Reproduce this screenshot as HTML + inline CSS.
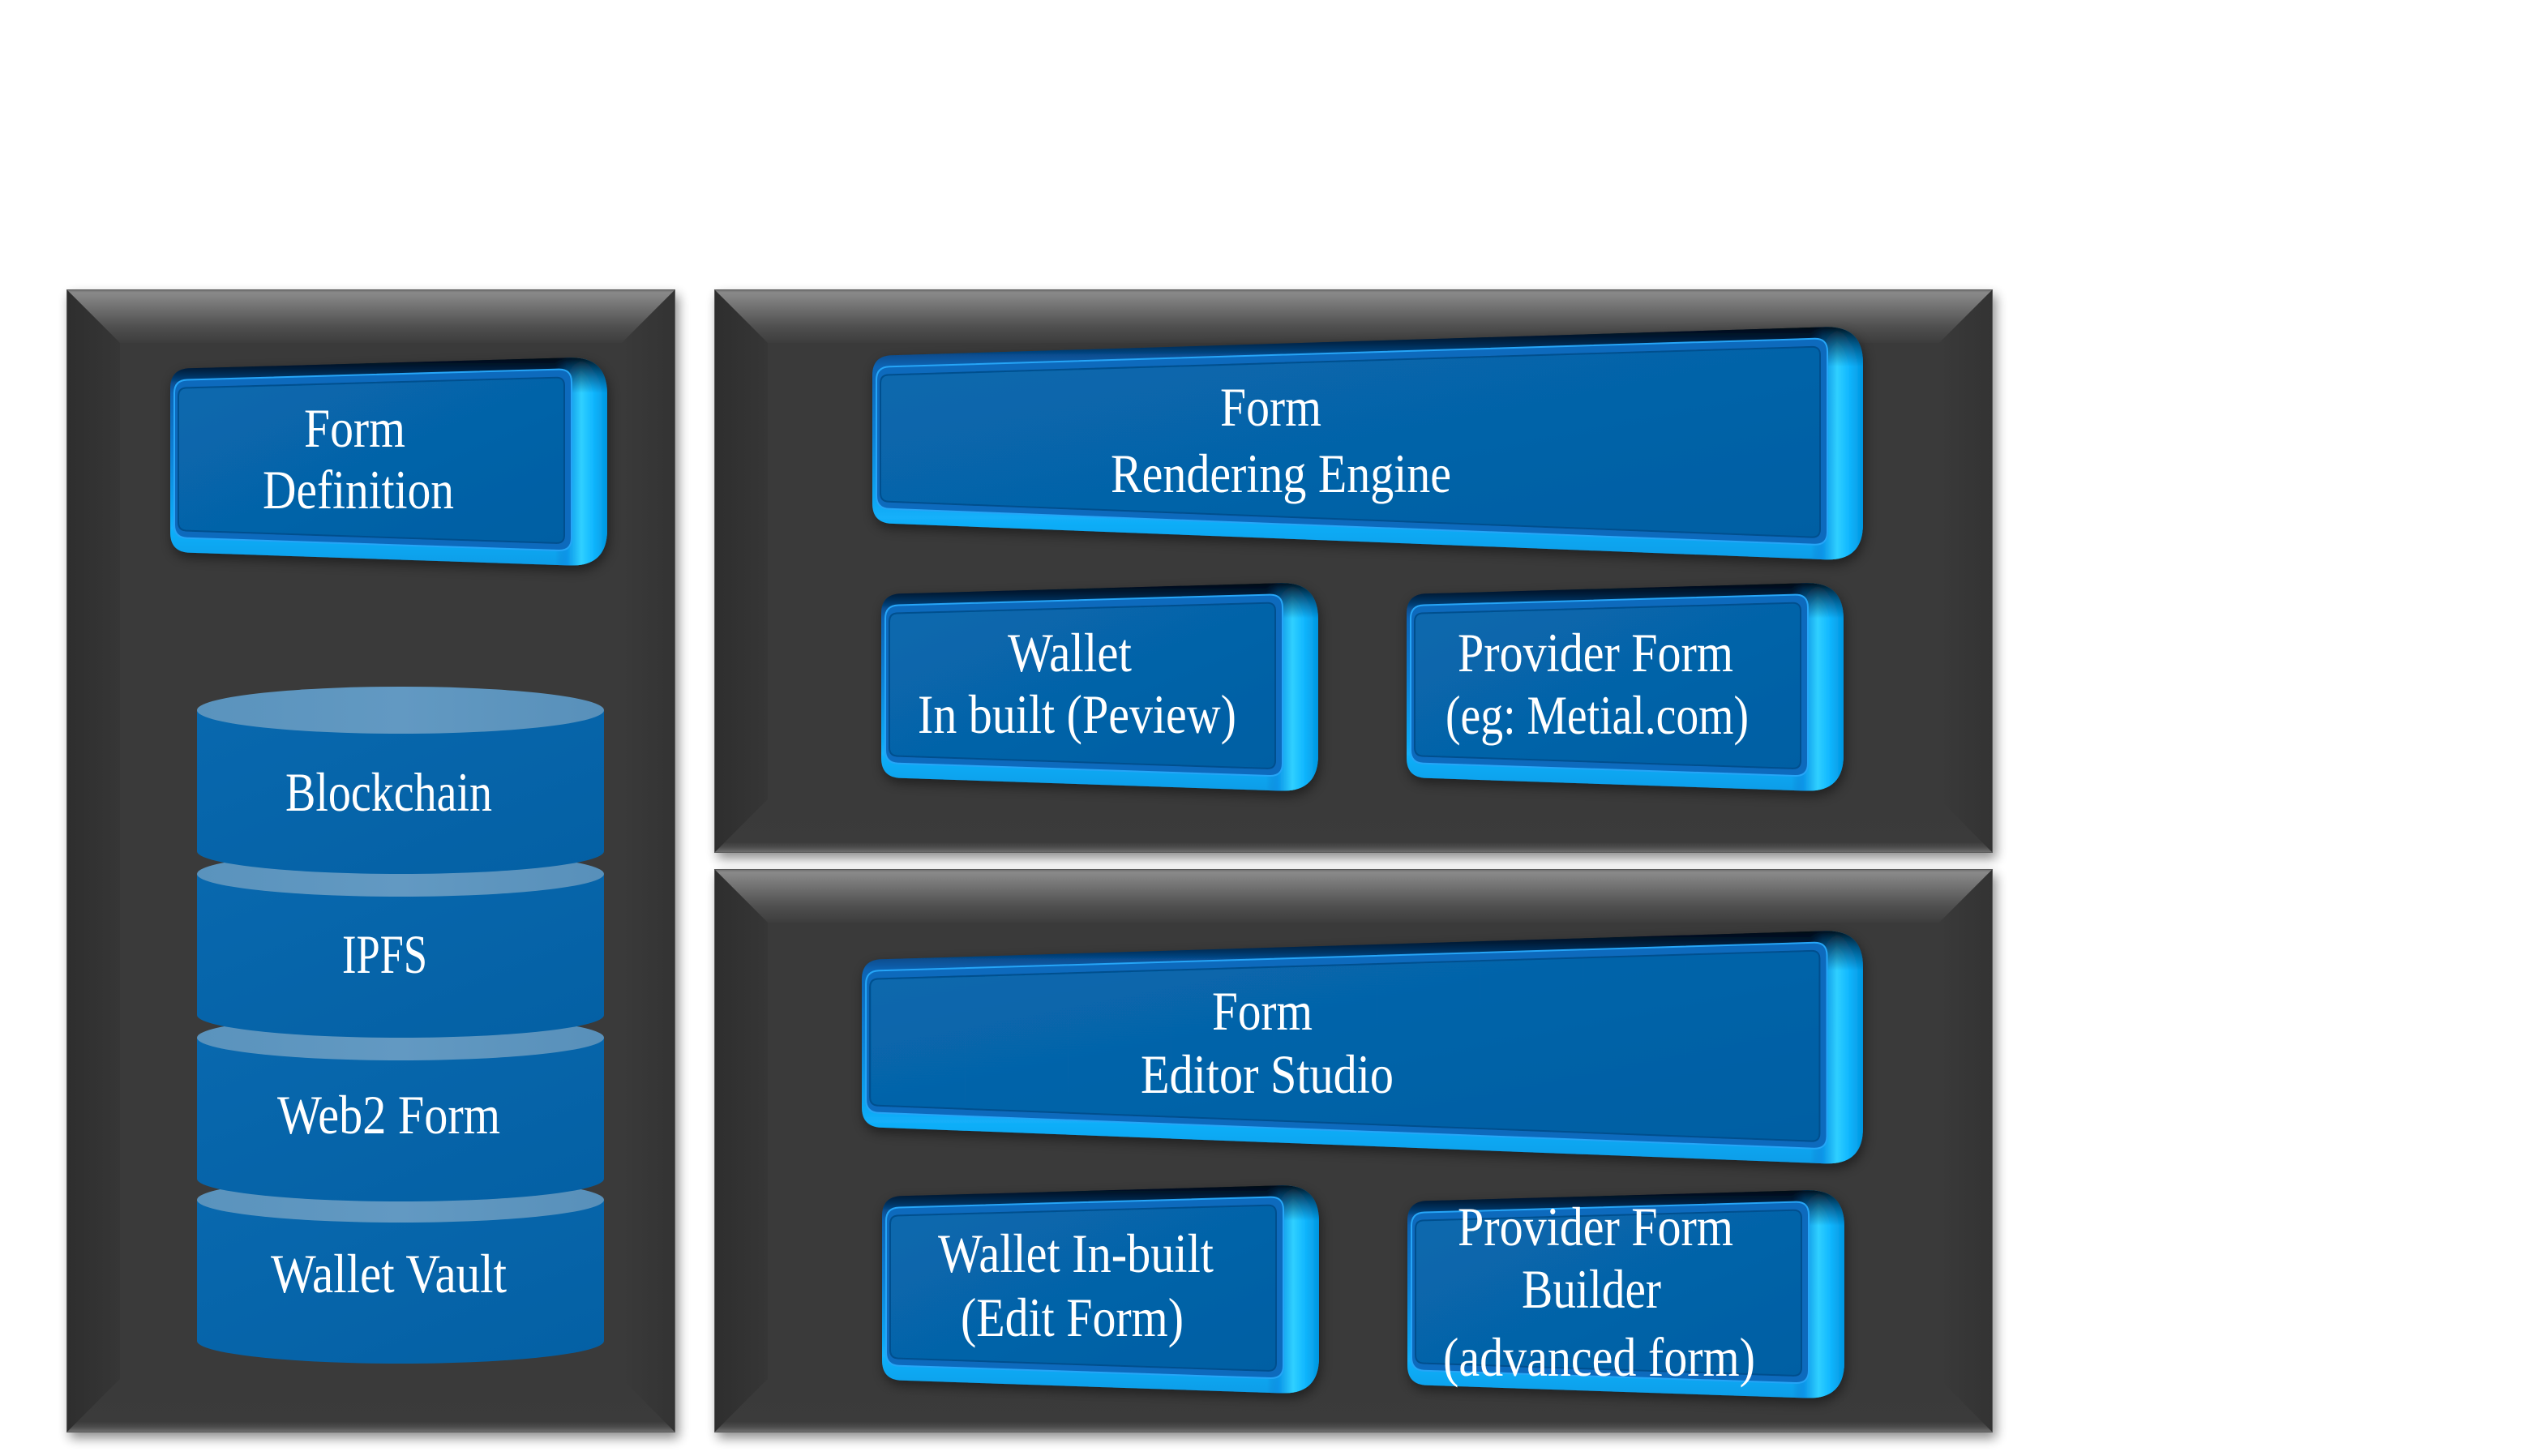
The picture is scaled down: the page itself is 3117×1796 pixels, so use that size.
<!DOCTYPE html>
<html>
<head>
<meta charset="utf-8">
<style>
html,body{margin:0;padding:0;background:#ffffff;}
svg{display:block;}
</style>
</head>
<body>
<svg width="3117" height="1796" viewBox="0 0 3117 1796" xmlns="http://www.w3.org/2000/svg" xmlns:xlink="http://www.w3.org/1999/xlink">
<defs>
  <filter id="psh" x="-10%" y="-10%" width="120%" height="120%">
    <feGaussianBlur stdDeviation="7"/>
  </filter>
  <filter id="bsh" x="-10%" y="-20%" width="120%" height="140%">
    <feDropShadow dx="2" dy="6" stdDeviation="7" flood-color="#000" flood-opacity="0.45"/>
  </filter>
  <linearGradient id="gTopBev" x1="0" y1="0" x2="0" y2="1">
    <stop offset="0" stop-color="#6a6a6a"/>
    <stop offset="0.06" stop-color="#8a8a8a"/>
    <stop offset="0.3" stop-color="#747474"/>
    <stop offset="0.7" stop-color="#4f4f4f"/>
    <stop offset="1" stop-color="#3d3d3d"/>
  </linearGradient>
  <linearGradient id="gBotBev" x1="0" y1="0" x2="0" y2="1">
    <stop offset="0" stop-color="#3a3a3a"/>
    <stop offset="0.8" stop-color="#3b3b3b"/>
    <stop offset="0.9" stop-color="#4e4e4e"/>
    <stop offset="1" stop-color="#747474"/>
  </linearGradient>
  <linearGradient id="gLeftBev" x1="0" y1="0" x2="1" y2="0">
    <stop offset="0" stop-color="#2e2e2e"/>
    <stop offset="1" stop-color="#363636"/>
  </linearGradient>
  <linearGradient id="gRightBev" x1="0" y1="0" x2="1" y2="0">
    <stop offset="0" stop-color="#3a3a3a"/>
    <stop offset="1" stop-color="#333333"/>
  </linearGradient>

  <linearGradient id="gO" x1="0" y1="0" x2="0" y2="1">
    <stop offset="0" stop-color="#000a18"/>
    <stop offset="0.05" stop-color="#02264a"/>
    <stop offset="0.12" stop-color="#0a5fae"/>
    <stop offset="0.45" stop-color="#0c7fd4"/>
    <stop offset="0.82" stop-color="#12b0fa"/>
    <stop offset="1" stop-color="#0a9de8"/>
  </linearGradient>
  <linearGradient id="gS" x1="0" y1="0" x2="1" y2="0">
    <stop offset="0" stop-color="#0b7fd0" stop-opacity="0"/>
    <stop offset="0.22" stop-color="#0a94e8" stop-opacity="0.9"/>
    <stop offset="0.5" stop-color="#30d0ff"/>
    <stop offset="0.72" stop-color="#12b8ff"/>
    <stop offset="1" stop-color="#0095e0"/>
  </linearGradient>
  <linearGradient id="gT" x1="0" y1="0" x2="0" y2="1">
    <stop offset="0" stop-color="#000814" stop-opacity="0.95"/>
    <stop offset="0.07" stop-color="#001e3c" stop-opacity="0.6"/>
    <stop offset="0.17" stop-color="#002850" stop-opacity="0"/>
    <stop offset="1" stop-color="#002850" stop-opacity="0"/>
  </linearGradient>
  <linearGradient id="gF" x1="0" y1="0" x2="1" y2="1">
    <stop offset="0" stop-color="#0868ae"/>
    <stop offset="1" stop-color="#045fa3"/>
  </linearGradient>
  <linearGradient id="gCyl" x1="0" y1="0" x2="1" y2="1">
    <stop offset="0" stop-color="#0868ae"/>
    <stop offset="1" stop-color="#0460a4"/>
  </linearGradient>
  <linearGradient id="gCylTop" x1="0" y1="0" x2="1" y2="0">
    <stop offset="0" stop-color="#5a93bd"/>
    <stop offset="0.5" stop-color="#6299c2"/>
    <stop offset="1" stop-color="#5890ba"/>
  </linearGradient>

  <!-- small button (base geometry: Wallet In built) -->
  <g id="bs">
    <path d="M 1087,757 Q 1087,733 1111,732.3 L 1580,719.3 Q 1626,718 1626,764 L 1626,931 Q 1626,977 1580,975.5 L 1111,959.8 Q 1087,959 1087,935 Z" fill="url(#gO)"/>
    <path d="M 1562,719.8 L 1580,719.3 Q 1626,718 1626,764 L 1626,931 Q 1626,977 1580,975.5 L 1562,974.9 Z" fill="url(#gS)"/>
    <path d="M 1087,757 Q 1087,733 1111,732.3 L 1580,719.3 Q 1626,718 1626,764 L 1626,931 Q 1626,977 1580,975.5 L 1111,959.8 Q 1087,959 1087,935 Z" fill="url(#gT)"/>
    <path d="M 1092,762.9 Q 1092,746.9 1108,746.5 L 1566,733.6 Q 1582,733.2 1582,749.2 L 1582,941.5 Q 1582,957.5 1566,957 L 1108,941.7 Q 1092,941.2 1092,925.2 Z" fill="#0b6bbd" stroke="#25a5f7" stroke-width="2"/>
    <path d="M 1097,766.7 Q 1097,756.7 1107,756.4 L 1563,743.8 Q 1573,743.5 1573,753.5 L 1573,938.2 Q 1573,948.2 1563,947.9 L 1107,932.6 Q 1097,932.3 1097,922.3 Z" fill="url(#gF)" stroke="#064f8e" stroke-width="2"/>
  </g>

  <!-- wide button (base geometry: Rendering Engine) -->
  <g id="bw">
    <path d="M 1076,463 Q 1076,439 1100,438.3 L 2252,403.4 Q 2298,402 2298,448 L 2298,646 Q 2298,692 2252,690.2 L 1100,645.9 Q 1076,645 1076,621 Z" fill="url(#gO)"/>
    <path d="M 2234,403.9 L 2252,403.4 Q 2298,402 2298,448 L 2298,646 Q 2298,692 2252,690.2 L 2234,689.5 Z" fill="url(#gS)"/>
    <path d="M 1076,463 Q 1076,439 1100,438.3 L 2252,403.4 Q 2298,402 2298,448 L 2298,646 Q 2298,692 2252,690.2 L 1100,645.9 Q 1076,645 1076,621 Z" fill="url(#gT)"/>
    <path d="M 1081,468.8 Q 1081,452.8 1097,452.3 L 2238,417.8 Q 2254,417.3 2254,433.3 L 2254,656.3 Q 2254,672.3 2238,671.7 L 1097,627.8 Q 1081,627.2 1081,611.2 Z" fill="#0b6bbd" stroke="#25a5f7" stroke-width="2"/>
    <path d="M 1086,472.7 Q 1086,462.7 1096,462.4 L 2235,427.9 Q 2245,427.6 2245,437.6 L 2245,653 Q 2245,663 2235,662.6 L 1096,618.8 Q 1086,618.4 1086,608.4 Z" fill="url(#gF)" stroke="#064f8e" stroke-width="2"/>
  </g>
</defs>

<rect x="0" y="0" width="3117" height="1796" fill="#ffffff"/>

<!-- panel shadows -->
<rect x="86" y="364" width="751" height="1410" fill="#000" opacity="0.45" filter="url(#psh)"/>
<rect x="885" y="364" width="1577" height="695" fill="#000" opacity="0.45" filter="url(#psh)"/>
<rect x="885" y="1079" width="1577" height="695" fill="#000" opacity="0.45" filter="url(#psh)"/>

<!-- Left panel -->
<rect x="82" y="357" width="751" height="1410" fill="#3a3a3a"/>
<polygon points="82,357 833,357 767,423 148,423" fill="url(#gTopBev)"/>
<polygon points="82,357 148,423 148,1701 82,1767" fill="url(#gLeftBev)"/>
<polygon points="833,357 833,1767 767,1701 767,423" fill="url(#gRightBev)"/>
<polygon points="82,1767 148,1701 767,1701 833,1767" fill="url(#gBotBev)"/>
<rect x="82.5" y="357.5" width="750" height="1409" fill="none" stroke="#5a5a5a" stroke-width="1"/>

<!-- Right top panel -->
<rect x="881" y="357" width="1577" height="695" fill="#3a3a3a"/>
<polygon points="881,357 2458,357 2392,423 947,423" fill="url(#gTopBev)"/>
<polygon points="881,357 947,423 947,986 881,1052" fill="url(#gLeftBev)"/>
<polygon points="2458,357 2458,1052 2392,986 2392,423" fill="url(#gRightBev)"/>
<polygon points="881,1052 947,986 2392,986 2458,1052" fill="url(#gBotBev)"/>
<rect x="881.5" y="357.5" width="1576" height="694" fill="none" stroke="#5a5a5a" stroke-width="1"/>

<!-- Right bottom panel -->
<rect x="881" y="1072" width="1577" height="695" fill="#3a3a3a"/>
<polygon points="881,1072 2458,1072 2392,1138 947,1138" fill="url(#gTopBev)"/>
<polygon points="881,1072 947,1138 947,1701 881,1767" fill="url(#gLeftBev)"/>
<polygon points="2458,1072 2458,1767 2392,1701 2392,1138" fill="url(#gRightBev)"/>
<polygon points="881,1767 947,1701 2392,1701 2458,1767" fill="url(#gBotBev)"/>
<rect x="881.5" y="1072.5" width="1576" height="694" fill="none" stroke="#5a5a5a" stroke-width="1"/>

<!-- Buttons -->
<g filter="url(#bsh)">
  <use href="#bs" xlink:href="#bs" transform="translate(-877,-278)"/>
  <use href="#bw" xlink:href="#bw"/>
  <use href="#bs" xlink:href="#bs"/>
  <use href="#bs" xlink:href="#bs" transform="translate(648,0)"/>
  <use href="#bw" xlink:href="#bw" transform="matrix(1.0106,0,0,1,-24.4,745)"/>
  <use href="#bs" xlink:href="#bs" transform="translate(1,743)"/>
  <use href="#bs" xlink:href="#bs" transform="translate(649,749)"/>
</g>

<!-- Cylinder (drawn bottom-up) -->
<g>
  <path d="M 243,1480 L 243,1654 A 251,28 0 0 0 745,1654 L 745,1480 Z" fill="url(#gCyl)"/>
  <ellipse cx="494" cy="1480" rx="251" ry="28" fill="url(#gCylTop)"/>
  <path d="M 243,1280 L 243,1454 A 251,28 0 0 0 745,1454 L 745,1280 Z" fill="url(#gCyl)"/>
  <ellipse cx="494" cy="1280" rx="251" ry="28" fill="url(#gCylTop)"/>
  <path d="M 243,1078 L 243,1252 A 251,28 0 0 0 745,1252 L 745,1078 Z" fill="url(#gCyl)"/>
  <ellipse cx="494" cy="1078" rx="251" ry="28" fill="url(#gCylTop)"/>
  <path d="M 243,876 L 243,1050 A 251,28 0 0 0 745,1050 L 745,876 Z" fill="url(#gCyl)"/>
  <ellipse cx="494" cy="876" rx="251" ry="29" fill="url(#gCylTop)"/>
</g>

<!-- Text -->
<g fill="#ffffff" font-family="'Liberation Serif', 'DejaVu Serif', serif" font-size="68">
  <text x="375" y="551" textLength="125" lengthAdjust="spacingAndGlyphs">Form</text>
  <text x="324" y="627" textLength="236" lengthAdjust="spacingAndGlyphs">Definition</text>

  <text x="1505" y="525" textLength="125" lengthAdjust="spacingAndGlyphs">Form</text>
  <text x="1370" y="607" textLength="420" lengthAdjust="spacingAndGlyphs">Rendering Engine</text>

  <text x="1243" y="828" textLength="153" lengthAdjust="spacingAndGlyphs">Wallet</text>
  <text x="1132" y="904" textLength="393" lengthAdjust="spacingAndGlyphs">In built (Peview)</text>

  <text x="1798" y="828" textLength="340" lengthAdjust="spacingAndGlyphs">Provider Form</text>
  <text x="1783" y="905" textLength="374" lengthAdjust="spacingAndGlyphs">(eg: Metial.com)</text>

  <text x="1495" y="1270" textLength="124" lengthAdjust="spacingAndGlyphs">Form</text>
  <text x="1407" y="1348" textLength="312" lengthAdjust="spacingAndGlyphs">Editor Studio</text>

  <text x="1157" y="1569" textLength="340" lengthAdjust="spacingAndGlyphs">Wallet In-built</text>
  <text x="1185" y="1648" textLength="275" lengthAdjust="spacingAndGlyphs">(Edit Form)</text>

  <text x="1798" y="1536" textLength="340" lengthAdjust="spacingAndGlyphs">Provider Form</text>
  <text x="1877" y="1613" textLength="172" lengthAdjust="spacingAndGlyphs">Builder</text>
  <text x="1780" y="1697" textLength="385" lengthAdjust="spacingAndGlyphs">(advanced form)</text>

  <text x="352" y="1000" textLength="255" lengthAdjust="spacingAndGlyphs">Blockchain</text>
  <text x="422" y="1200" textLength="105" lengthAdjust="spacingAndGlyphs">IPFS</text>
  <text x="342" y="1398" textLength="275" lengthAdjust="spacingAndGlyphs">Web2 Form</text>
  <text x="334" y="1594" textLength="291" lengthAdjust="spacingAndGlyphs">Wallet Vault</text>
</g>
</svg>
</body>
</html>
